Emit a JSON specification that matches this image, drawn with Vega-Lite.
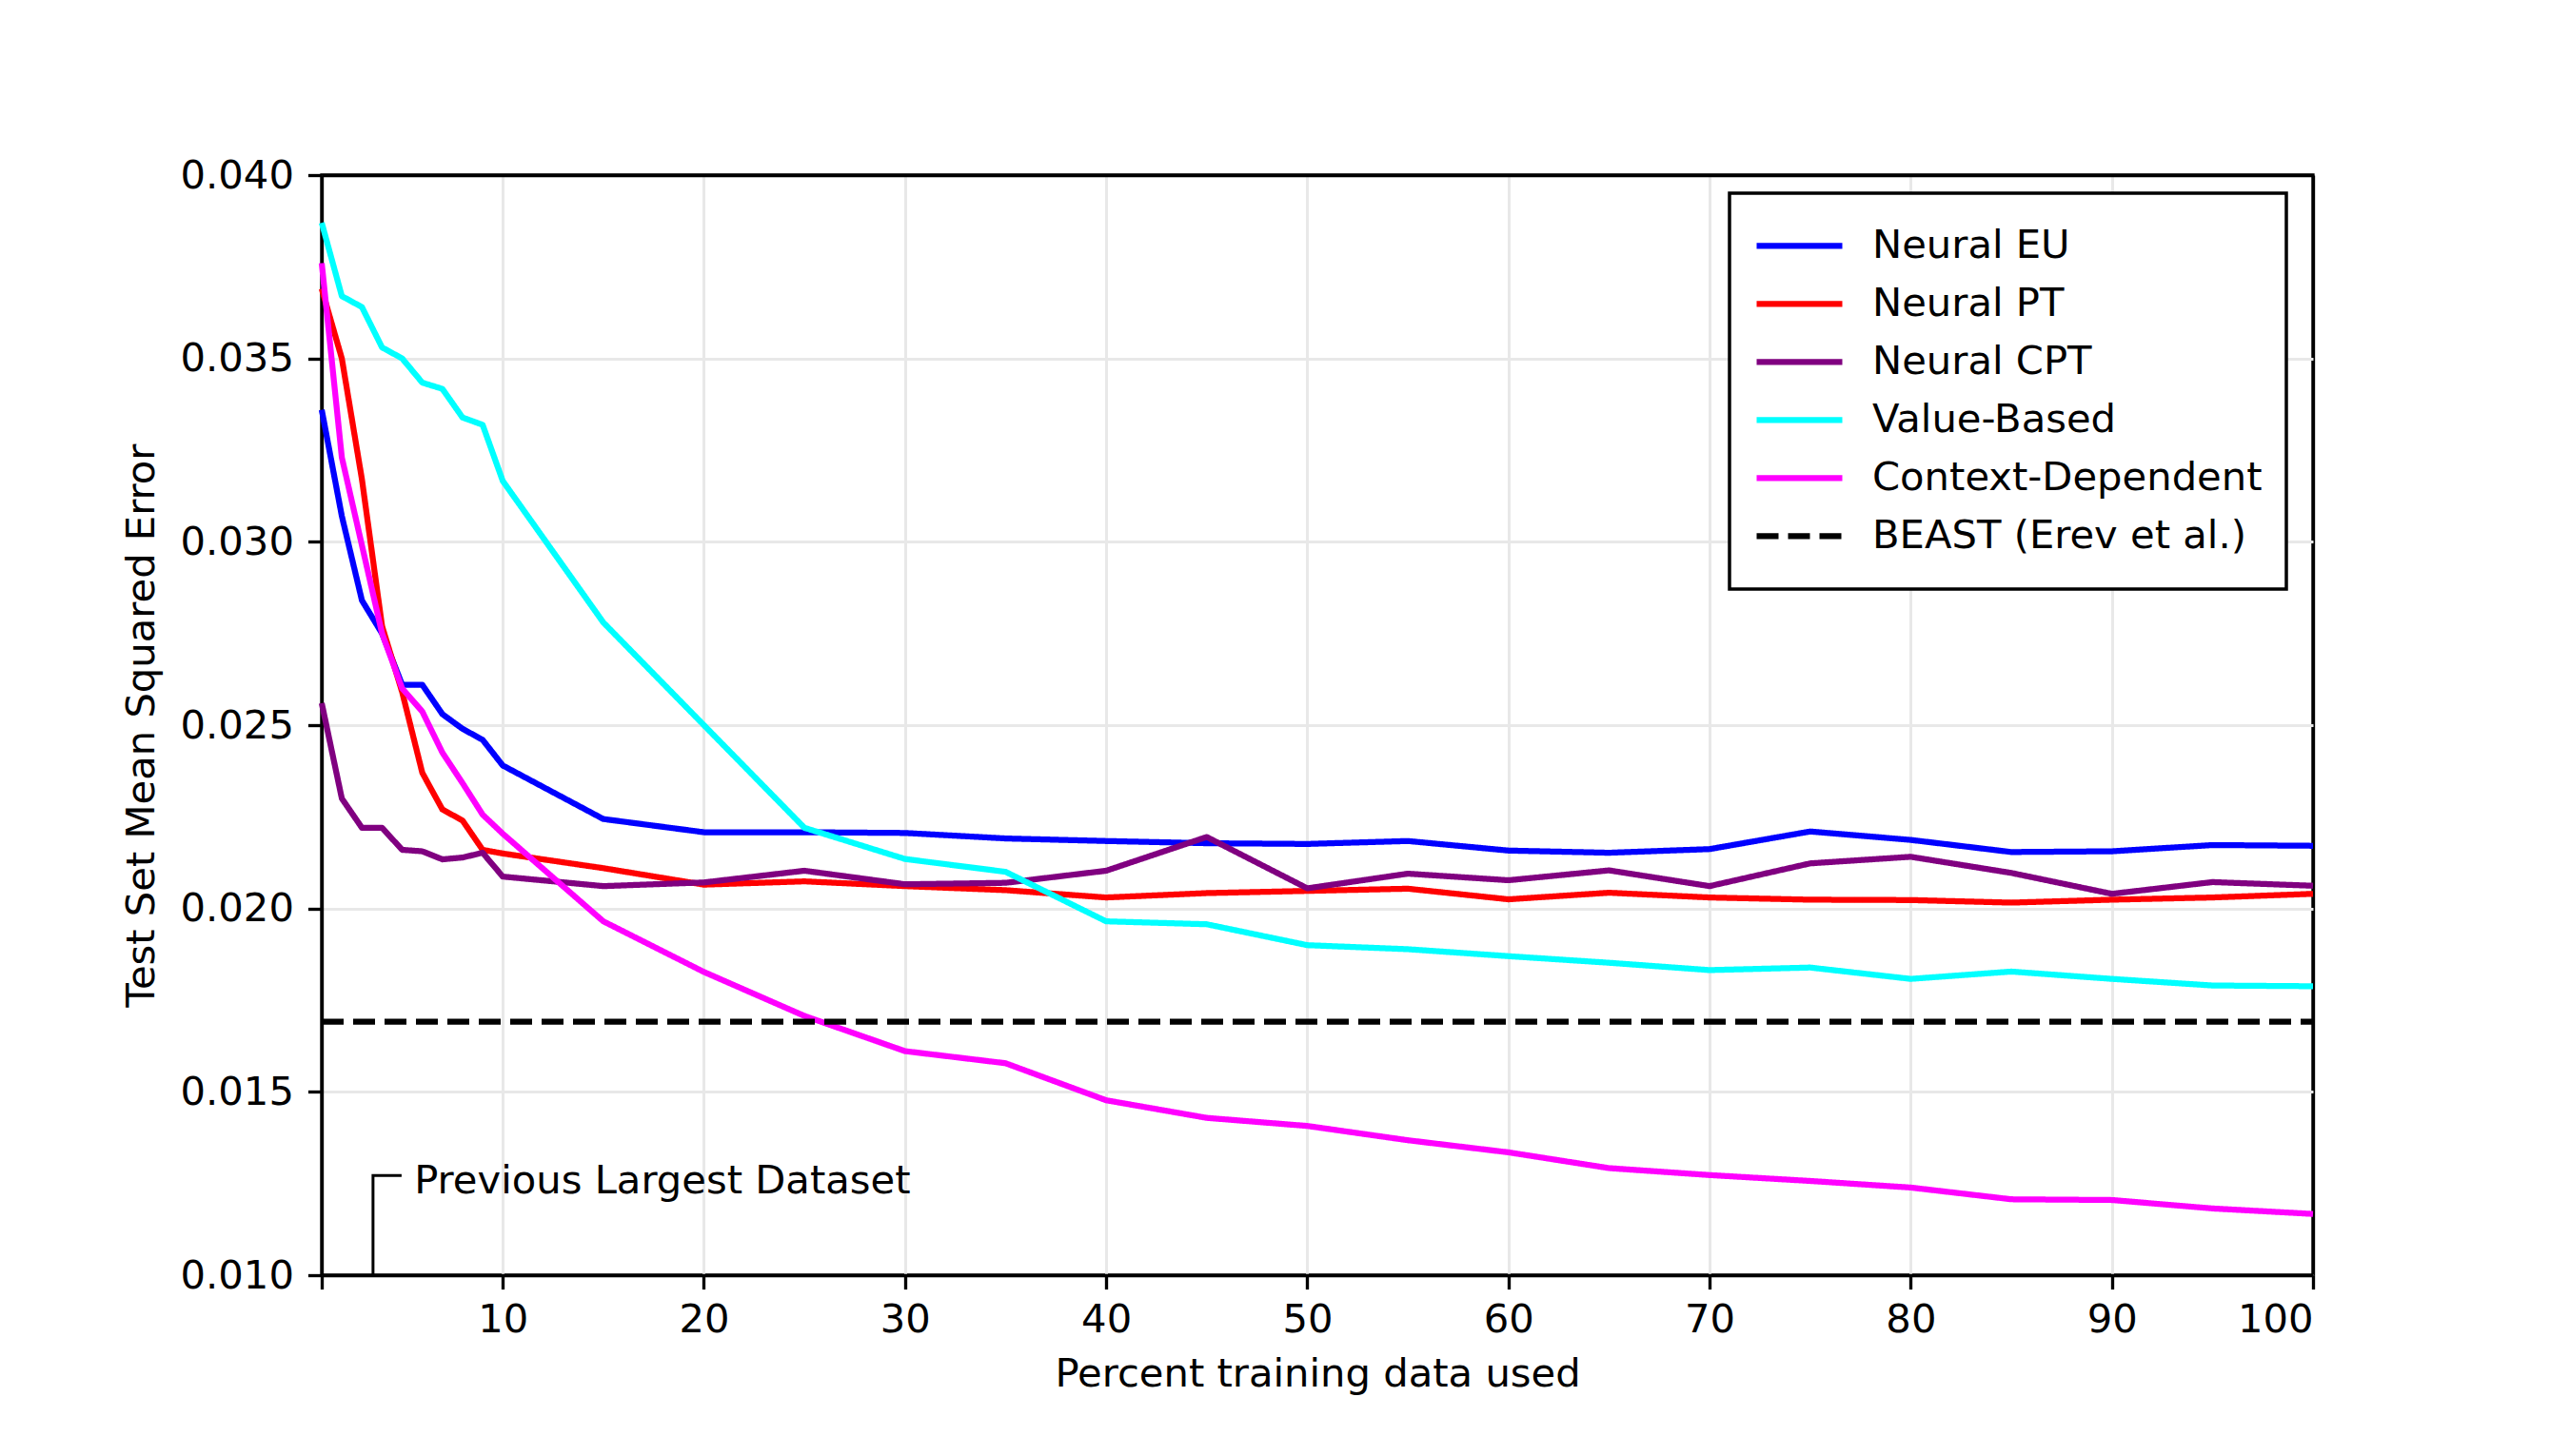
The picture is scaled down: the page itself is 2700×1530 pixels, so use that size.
{
  "$schema": "https://vega.github.io/schema/vega-lite/v6.json",
  "width": 2092,
  "height": 1156,
  "autosize": {"type": "none"},
  "padding": {"left": 338, "top": 184, "right": 270, "bottom": 190},
  "background": "white",
  "datasets": {
    "curves": [
      {"pct": 1, "mse": 0.0336, "model": "Neural EU"},
      {"pct": 2, "mse": 0.0307, "model": "Neural EU"},
      {"pct": 3, "mse": 0.0284, "model": "Neural EU"},
      {"pct": 4, "mse": 0.0275, "model": "Neural EU"},
      {"pct": 5, "mse": 0.0261, "model": "Neural EU"},
      {"pct": 6, "mse": 0.0261, "model": "Neural EU"},
      {"pct": 7, "mse": 0.0253, "model": "Neural EU"},
      {"pct": 8, "mse": 0.0249, "model": "Neural EU"},
      {"pct": 9, "mse": 0.0246, "model": "Neural EU"},
      {"pct": 10, "mse": 0.0239, "model": "Neural EU"},
      {"pct": 15, "mse": 0.02244, "model": "Neural EU"},
      {"pct": 20, "mse": 0.02208, "model": "Neural EU"},
      {"pct": 25, "mse": 0.02208, "model": "Neural EU"},
      {"pct": 30, "mse": 0.02206, "model": "Neural EU"},
      {"pct": 35, "mse": 0.02191, "model": "Neural EU"},
      {"pct": 40, "mse": 0.02184, "model": "Neural EU"},
      {"pct": 45, "mse": 0.02178, "model": "Neural EU"},
      {"pct": 50, "mse": 0.02176, "model": "Neural EU"},
      {"pct": 55, "mse": 0.02184, "model": "Neural EU"},
      {"pct": 60, "mse": 0.02158, "model": "Neural EU"},
      {"pct": 65, "mse": 0.02152, "model": "Neural EU"},
      {"pct": 70, "mse": 0.02162, "model": "Neural EU"},
      {"pct": 75, "mse": 0.0221, "model": "Neural EU"},
      {"pct": 80, "mse": 0.02187, "model": "Neural EU"},
      {"pct": 85, "mse": 0.02154, "model": "Neural EU"},
      {"pct": 90, "mse": 0.02156, "model": "Neural EU"},
      {"pct": 95, "mse": 0.02173, "model": "Neural EU"},
      {"pct": 100, "mse": 0.02171, "model": "Neural EU"},

      {"pct": 1, "mse": 0.0369, "model": "Neural PT"},
      {"pct": 2, "mse": 0.035, "model": "Neural PT"},
      {"pct": 3, "mse": 0.0317, "model": "Neural PT"},
      {"pct": 4, "mse": 0.0277, "model": "Neural PT"},
      {"pct": 5, "mse": 0.0259, "model": "Neural PT"},
      {"pct": 6, "mse": 0.0237, "model": "Neural PT"},
      {"pct": 7, "mse": 0.0227, "model": "Neural PT"},
      {"pct": 8, "mse": 0.0224, "model": "Neural PT"},
      {"pct": 9, "mse": 0.0216, "model": "Neural PT"},
      {"pct": 10, "mse": 0.0215, "model": "Neural PT"},
      {"pct": 15, "mse": 0.0211, "model": "Neural PT"},
      {"pct": 20, "mse": 0.02065, "model": "Neural PT"},
      {"pct": 25, "mse": 0.02074, "model": "Neural PT"},
      {"pct": 30, "mse": 0.02061, "model": "Neural PT"},
      {"pct": 35, "mse": 0.0205, "model": "Neural PT"},
      {"pct": 40, "mse": 0.0203, "model": "Neural PT"},
      {"pct": 45, "mse": 0.02042, "model": "Neural PT"},
      {"pct": 50, "mse": 0.02048, "model": "Neural PT"},
      {"pct": 55, "mse": 0.02054, "model": "Neural PT"},
      {"pct": 60, "mse": 0.02025, "model": "Neural PT"},
      {"pct": 65, "mse": 0.02043, "model": "Neural PT"},
      {"pct": 70, "mse": 0.0203, "model": "Neural PT"},
      {"pct": 75, "mse": 0.02024, "model": "Neural PT"},
      {"pct": 80, "mse": 0.02023, "model": "Neural PT"},
      {"pct": 85, "mse": 0.02016, "model": "Neural PT"},
      {"pct": 90, "mse": 0.02024, "model": "Neural PT"},
      {"pct": 95, "mse": 0.0203, "model": "Neural PT"},
      {"pct": 100, "mse": 0.0204, "model": "Neural PT"},

      {"pct": 1, "mse": 0.0256, "model": "Neural CPT"},
      {"pct": 2, "mse": 0.023, "model": "Neural CPT"},
      {"pct": 3, "mse": 0.0222, "model": "Neural CPT"},
      {"pct": 4, "mse": 0.0222, "model": "Neural CPT"},
      {"pct": 5, "mse": 0.0216, "model": "Neural CPT"},
      {"pct": 6, "mse": 0.02156, "model": "Neural CPT"},
      {"pct": 7, "mse": 0.02134, "model": "Neural CPT"},
      {"pct": 8, "mse": 0.02139, "model": "Neural CPT"},
      {"pct": 9, "mse": 0.02152, "model": "Neural CPT"},
      {"pct": 10, "mse": 0.02087, "model": "Neural CPT"},
      {"pct": 15, "mse": 0.02061, "model": "Neural CPT"},
      {"pct": 20, "mse": 0.02071, "model": "Neural CPT"},
      {"pct": 25, "mse": 0.02103, "model": "Neural CPT"},
      {"pct": 30, "mse": 0.02066, "model": "Neural CPT"},
      {"pct": 35, "mse": 0.0207, "model": "Neural CPT"},
      {"pct": 40, "mse": 0.02103, "model": "Neural CPT"},
      {"pct": 45, "mse": 0.02195, "model": "Neural CPT"},
      {"pct": 50, "mse": 0.02055, "model": "Neural CPT"},
      {"pct": 55, "mse": 0.02095, "model": "Neural CPT"},
      {"pct": 60, "mse": 0.02077, "model": "Neural CPT"},
      {"pct": 65, "mse": 0.02104, "model": "Neural CPT"},
      {"pct": 70, "mse": 0.02061, "model": "Neural CPT"},
      {"pct": 75, "mse": 0.02123, "model": "Neural CPT"},
      {"pct": 80, "mse": 0.02141, "model": "Neural CPT"},
      {"pct": 85, "mse": 0.02097, "model": "Neural CPT"},
      {"pct": 90, "mse": 0.0204, "model": "Neural CPT"},
      {"pct": 95, "mse": 0.02072, "model": "Neural CPT"},
      {"pct": 100, "mse": 0.02062, "model": "Neural CPT"},

      {"pct": 1, "mse": 0.0387, "model": "Value-Based"},
      {"pct": 2, "mse": 0.0367, "model": "Value-Based"},
      {"pct": 3, "mse": 0.0364, "model": "Value-Based"},
      {"pct": 4, "mse": 0.0353, "model": "Value-Based"},
      {"pct": 5, "mse": 0.035, "model": "Value-Based"},
      {"pct": 6, "mse": 0.03434, "model": "Value-Based"},
      {"pct": 7, "mse": 0.03417, "model": "Value-Based"},
      {"pct": 8, "mse": 0.03339, "model": "Value-Based"},
      {"pct": 9, "mse": 0.03319, "model": "Value-Based"},
      {"pct": 10, "mse": 0.03166, "model": "Value-Based"},
      {"pct": 15, "mse": 0.0278, "model": "Value-Based"},
      {"pct": 20, "mse": 0.025, "model": "Value-Based"},
      {"pct": 25, "mse": 0.0222, "model": "Value-Based"},
      {"pct": 30, "mse": 0.02135, "model": "Value-Based"},
      {"pct": 35, "mse": 0.021, "model": "Value-Based"},
      {"pct": 40, "mse": 0.01965, "model": "Value-Based"},
      {"pct": 45, "mse": 0.01957, "model": "Value-Based"},
      {"pct": 50, "mse": 0.019, "model": "Value-Based"},
      {"pct": 55, "mse": 0.01889, "model": "Value-Based"},
      {"pct": 60, "mse": 0.0187, "model": "Value-Based"},
      {"pct": 65, "mse": 0.01852, "model": "Value-Based"},
      {"pct": 70, "mse": 0.01832, "model": "Value-Based"},
      {"pct": 75, "mse": 0.01839, "model": "Value-Based"},
      {"pct": 80, "mse": 0.01808, "model": "Value-Based"},
      {"pct": 85, "mse": 0.01828, "model": "Value-Based"},
      {"pct": 90, "mse": 0.01808, "model": "Value-Based"},
      {"pct": 95, "mse": 0.0179, "model": "Value-Based"},
      {"pct": 100, "mse": 0.01788, "model": "Value-Based"},

      {"pct": 1, "mse": 0.0376, "model": "Context-Dependent"},
      {"pct": 2, "mse": 0.0323, "model": "Context-Dependent"},
      {"pct": 3, "mse": 0.0299, "model": "Context-Dependent"},
      {"pct": 4, "mse": 0.0275, "model": "Context-Dependent"},
      {"pct": 5, "mse": 0.026, "model": "Context-Dependent"},
      {"pct": 6, "mse": 0.02537, "model": "Context-Dependent"},
      {"pct": 7, "mse": 0.02425, "model": "Context-Dependent"},
      {"pct": 8, "mse": 0.02342, "model": "Context-Dependent"},
      {"pct": 9, "mse": 0.02256, "model": "Context-Dependent"},
      {"pct": 10, "mse": 0.02204, "model": "Context-Dependent"},
      {"pct": 15, "mse": 0.01965, "model": "Context-Dependent"},
      {"pct": 20, "mse": 0.01827, "model": "Context-Dependent"},
      {"pct": 25, "mse": 0.01707, "model": "Context-Dependent"},
      {"pct": 30, "mse": 0.01611, "model": "Context-Dependent"},
      {"pct": 35, "mse": 0.01578, "model": "Context-Dependent"},
      {"pct": 40, "mse": 0.01477, "model": "Context-Dependent"},
      {"pct": 45, "mse": 0.01429, "model": "Context-Dependent"},
      {"pct": 50, "mse": 0.01407, "model": "Context-Dependent"},
      {"pct": 55, "mse": 0.01368, "model": "Context-Dependent"},
      {"pct": 60, "mse": 0.01335, "model": "Context-Dependent"},
      {"pct": 65, "mse": 0.01292, "model": "Context-Dependent"},
      {"pct": 70, "mse": 0.01273, "model": "Context-Dependent"},
      {"pct": 75, "mse": 0.01257, "model": "Context-Dependent"},
      {"pct": 80, "mse": 0.01239, "model": "Context-Dependent"},
      {"pct": 85, "mse": 0.01207, "model": "Context-Dependent"},
      {"pct": 90, "mse": 0.01205, "model": "Context-Dependent"},
      {"pct": 95, "mse": 0.01182, "model": "Context-Dependent"},
      {"pct": 100, "mse": 0.01167, "model": "Context-Dependent"},

      {"pct": 1, "mse": 0.01691, "model": "BEAST (Erev et al.)"},
      {"pct": 100, "mse": 0.01691, "model": "BEAST (Erev et al.)"}
    ],
    "bracket": [
      {"i": 0, "pct": 3.55, "mse": 0.01},
      {"i": 1, "pct": 3.55, "mse": 0.01272},
      {"i": 2, "pct": 4.97, "mse": 0.01272}
    ],
    "note": [
      {"pct": 5.6, "mse": 0.01223, "label": "Previous Largest Dataset"}
    ]
  },
  "layer": [
    {
      "data": {"name": "curves"},
      "mark": {"type": "line", "strokeWidth": 6.25, "strokeJoin": "round"},
      "encoding": {
        "x": {
          "field": "pct",
          "type": "quantitative",
          "title": "Percent training data used",
          "scale": {"domain": [1, 100], "nice": false, "zero": false},
          "axis": {
            "values": [1, 10, 20, 30, 40, 50, 60, 70, 80, 90, 100],
            "labelExpr": "datum.value == 1 ? '' : datum.label",
            "titlePadding": 15,
            "labelPadding": 12,
            "gridColor": {"condition": {"test": "datum.value == 100", "value": "black"}, "value": "#e8e8e8"},
            "gridWidth": {"condition": {"test": "datum.value == 100", "value": 3.33}, "value": 3}
          }
        },
        "y": {
          "field": "mse",
          "type": "quantitative",
          "title": "Test Set Mean Squared Error",
          "scale": {"domain": [0.01, 0.04], "nice": false, "zero": false},
          "axis": {
            "values": [0.01, 0.015, 0.02, 0.025, 0.03, 0.035, 0.04],
            "format": ".3f",
            "labelPadding": 15,
            "titlePadding": 19,
            "gridColor": {"condition": {"test": "datum.value >= 0.0399", "value": "black"}, "value": "#e8e8e8"},
            "gridWidth": {"condition": {"test": "datum.value >= 0.0399", "value": 3.33}, "value": 3}
          }
        },
        "color": {
          "field": "model",
          "type": "nominal",
          "title": null,
          "scale": {
            "domain": ["Neural EU", "Neural PT", "Neural CPT", "Value-Based", "Context-Dependent", "BEAST (Erev et al.)"],
            "range": ["#0000ff", "#ff0000", "#800080", "#00ffff", "#ff00ff", "#000000"]
          },
          "legend": {
            "orient": "none",
            "legendX": 1479,
            "legendY": 19
          }
        },
        "strokeDash": {
          "field": "model",
          "type": "nominal",
          "title": null,
          "scale": {
            "domain": ["Neural EU", "Neural PT", "Neural CPT", "Value-Based", "Context-Dependent", "BEAST (Erev et al.)"],
            "range": [[1, 0], [1, 0], [1, 0], [1, 0], [1, 0], [23, 10]]
          },
          "legend": {
            "orient": "none",
            "legendX": 1479,
            "legendY": 19
          }
        }
      }
    },
    {
      "data": {"name": "bracket"},
      "mark": {"type": "line", "color": "black", "strokeWidth": 3},
      "encoding": {
        "x": {"field": "pct", "type": "quantitative"},
        "y": {"field": "mse", "type": "quantitative"},
        "order": {"field": "i", "type": "quantitative"}
      }
    },
    {
      "data": {"name": "note"},
      "mark": {
        "type": "text",
        "align": "left",
        "baseline": "alphabetic",
        "fontSize": 41.7,
        "font": "DejaVu Sans",
        "color": "black"
      },
      "encoding": {
        "x": {"field": "pct", "type": "quantitative"},
        "y": {"field": "mse", "type": "quantitative"},
        "text": {"field": "label"}
      }
    }
  ],
  "config": {
    "font": "DejaVu Sans",
    "view": {"stroke": "black", "strokeWidth": 3.33},
    "axis": {
      "domainColor": "black",
      "domainWidth": 3.33,
      "tickColor": "black",
      "tickWidth": 3.33,
      "tickSize": 14.6,
      "labelFont": "DejaVu Sans",
      "labelFontSize": 41.7,
      "labelColor": "black",
      "titleFont": "DejaVu Sans",
      "titleFontSize": 41.7,
      "titleFontWeight": "normal",
      "titleColor": "black",
      "grid": true
    },
    "legend": {
      "labelFont": "DejaVu Sans",
      "labelFontSize": 41.7,
      "labelColor": "black",
      "labelLimit": 0,
      "symbolType": "stroke",
      "symbolSize": 8100,
      "symbolStrokeWidth": 6.25,
      "labelOffset": 28,
      "padding": 25,
      "rowPadding": 0,
      "clipHeight": 60.5,
      "strokeColor": "black",
      "strokeWidth": 3.5,
      "fillColor": "white",
      "cornerRadius": 0
    }
  }
}
